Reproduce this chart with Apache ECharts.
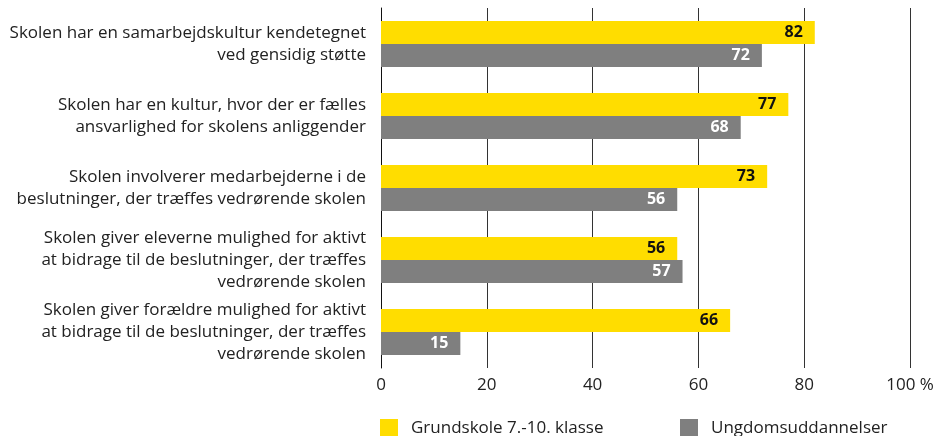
<!DOCTYPE html>
<html>
<head>
<meta charset="utf-8">
<script src="https://cdn.jsdelivr.net/npm/echarts@6/dist/echarts.min.js"></script>
<style>
  html, body { margin: 0; padding: 0; background: #fff; }
  #chart { width: 940px; height: 436px; }
</style>
</head>
<body>
<div id="chart"></div>
<script>
  // kategorier (oppefra og ned)
  var categories = [
    'Skolen har en samarbejdskultur kendetegnet\nved gensidig støtte',
    'Skolen har en kultur, hvor der er fælles\nansvarlighed for skolens anliggender',
    'Skolen involverer medarbejderne i de\nbeslutninger, der træffes vedrørende skolen',
    'Skolen giver eleverne mulighed for aktivt\nat bidrage til de beslutninger, der træffes\nvedrørende skolen',
    'Skolen giver forældre mulighed for aktivt\nat bidrage til de beslutninger, der træffes\nvedrørende skolen'
  ];
  var grundskole = [82, 77, 73, 56, 66];
  var ungdom = [72, 68, 56, 57, 15];
  var seriesNames = ['Grundskole 7.-10. klasse', 'Ungdomsuddannelser'];
  var xTicks = [0, 20, 40, 60, 80, 100];

  var font = '"Open Sans", "Noto Sans", sans-serif';
  var myChart = echarts.init(document.getElementById('chart'));

  var option = {
    animation: false,
    textStyle: { fontFamily: font },
    grid: { left: 381, right: 30, top: 8, bottom: 68, containLabel: false },
    legend: [{
      data: [seriesNames[0]],
      left: 375, top: 414,
      itemWidth: 18, itemHeight: 18, itemGap: 0,
      icon: 'rect',
      textStyle: { fontSize: 17, color: '#222', padding: [0, 0, 0, 8] }
    }, {
      data: [seriesNames[1]],
      left: 675, top: 414,
      itemWidth: 18, itemHeight: 18, itemGap: 0,
      icon: 'rect',
      textStyle: { fontSize: 17, color: '#222', padding: [0, 0, 0, 8] }
    }],
    xAxis: {
      type: 'value',
      min: 0, max: 100, interval: 20,
      axisLine: { show: false },
      axisTick: { show: false },
      splitLine: { show: true, lineStyle: { color: '#333', width: 1 } },
      axisLabel: {
        fontSize: 17, color: '#222', margin: 9,
        formatter: function (v) { return v === xTicks[xTicks.length - 1] ? v + ' %' : String(v); }
      }
    },
    yAxis: {
      type: 'category',
      inverse: true,
      data: categories,
      axisLine: { show: true, lineStyle: { color: '#111', width: 1 } },
      axisTick: { show: false },
      axisLabel: { fontSize: 17, color: '#222', lineHeight: 22, margin: 15, align: 'right' }
    },
    series: [{
      name: seriesNames[0],
      type: 'bar',
      data: grundskole,
      barWidth: 23,
      barGap: '0%',
      itemStyle: { color: '#FFDD00' },
      label: {
        show: true, position: 'insideRight', distance: 12,
        color: '#111', fontWeight: 'bold', fontSize: 16
      }
    }, {
      name: seriesNames[1],
      type: 'bar',
      data: ungdom,
      barWidth: 23,
      barGap: '0%',
      itemStyle: { color: '#7F7F7F' },
      label: {
        show: true, position: 'insideRight', distance: 12,
        color: '#fff', fontWeight: 'bold', fontSize: 16
      }
    }]
  };

  myChart.setOption(option);
</script>
</body>
</html>
